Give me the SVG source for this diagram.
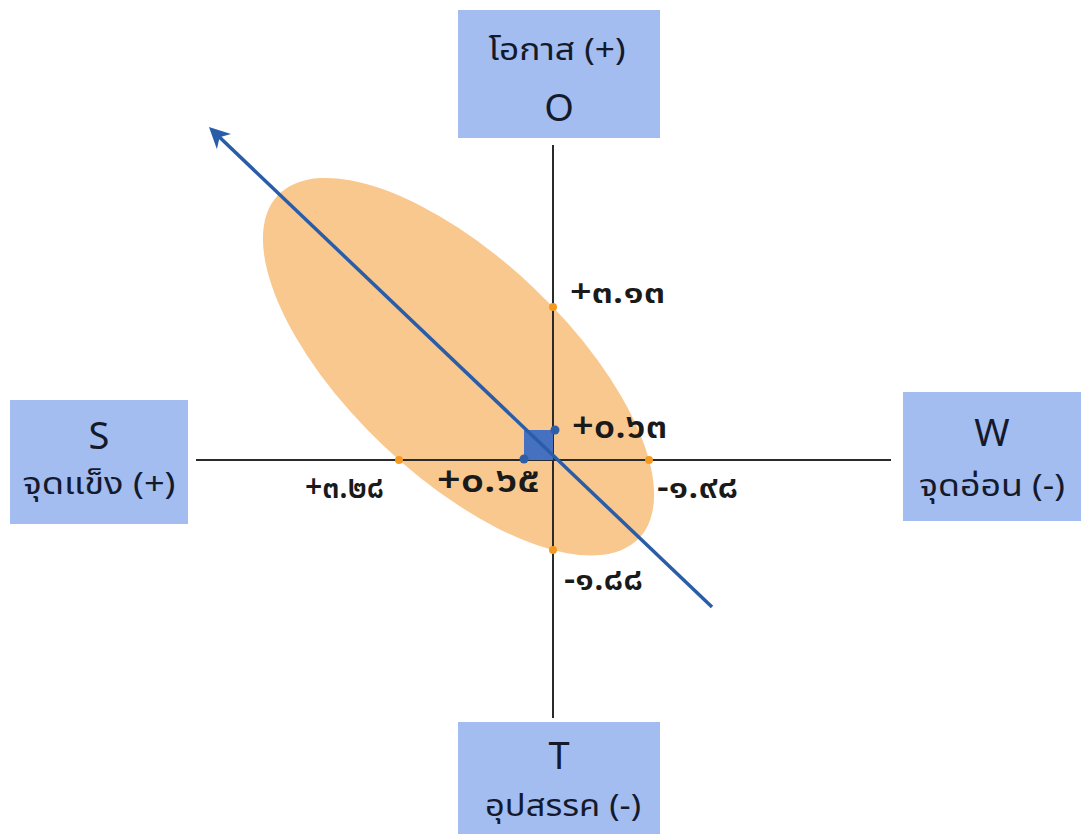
<svg xmlns="http://www.w3.org/2000/svg" width="1081" height="834" viewBox="0 0 1081 834">
<style>
.box{fill:#a3bdf1;}
.bt{font-family:"Noto Sans Thai","Noto Sans","DejaVu Sans",sans-serif;fill:#141a2c;text-anchor:middle;}
.big{font-size:38px;}
.th{font-size:31px;}
.lbl{font-family:"Noto Sans Thai","Noto Sans","DejaVu Sans",sans-serif;fill:#1a1a1a;font-weight:600;}
.axis{stroke:#2a2a2a;stroke-width:2;fill:none;}
.od{fill:#f29a22;}
.bd{fill:#2f5ea6;}
</style>
<defs>
<marker id="ah" viewBox="0 0 10 10" refX="8" refY="5" markerWidth="6" markerHeight="6" orient="auto-start-reverse" markerUnits="strokeWidth">
<path d="M0,0 L10,5 L0,10 L3,5 z" fill="#2a5da8"/>
</marker>
</defs>
<rect width="1081" height="834" fill="#ffffff"/>
<ellipse cx="458.5" cy="366.7" rx="249" ry="109" fill="#f9c88f" transform="rotate(43.5 458.5 366.7)"/>
<g id="connectors">
<line class="axis" x1="553" y1="145" x2="553" y2="718"/>
<line class="axis" x1="196" y1="460" x2="891" y2="460"/>
<rect x="524" y="430" width="29" height="30" fill="#4571c0"/>
<line x1="712" y1="607" x2="212" y2="130" stroke="#2a5da8" stroke-width="3.5" marker-end="url(#ah)"/>
</g>
<g id="points">
<circle class="od" cx="553" cy="307" r="4"/>
<circle class="od" cx="553" cy="550" r="4"/>
<circle class="od" cx="399" cy="460" r="4"/>
<circle class="od" cx="649" cy="460" r="4"/>
<circle class="bd" cx="555" cy="430" r="4.5"/>
<circle class="bd" cx="524" cy="459" r="4.5"/>
</g>
<g id="labels">
<text class="lbl" x="570" y="303" font-size="32" textLength="95" lengthAdjust="spacingAndGlyphs">+๓.๑๓</text>
<text class="lbl" x="572" y="438" font-size="36" textLength="95" lengthAdjust="spacingAndGlyphs">+๐.๖๓</text>
<text class="lbl" x="437" y="492" font-size="36" textLength="103" lengthAdjust="spacingAndGlyphs">+๐.๖๕</text>
<text class="lbl" x="305" y="498" font-size="32" textLength="79" lengthAdjust="spacingAndGlyphs">+๓.๒๘</text>
<text class="lbl" x="657" y="498" font-size="32" textLength="81" lengthAdjust="spacingAndGlyphs">-๑.๙๘</text>
<text class="lbl" x="564" y="590" font-size="32" textLength="79" lengthAdjust="spacingAndGlyphs">-๑.๘๘</text>
</g>
<g id="node-O">
<rect class="box" x="458" y="10" width="202" height="128"/>
<text class="bt th" x="557" y="60" textLength="137" lengthAdjust="spacingAndGlyphs">โอกาส (+)</text>
<text class="bt big" x="559" y="121">O</text>
</g>
<g id="node-S">
<rect class="box" x="10" y="400" width="178" height="124"/>
<text class="bt big" x="99" y="449">S</text>
<text class="bt th" x="99" y="494" textLength="153" lengthAdjust="spacingAndGlyphs">จุดแข็ง (+)</text>
</g>
<g id="node-W">
<rect class="box" x="903" y="392" width="178" height="129"/>
<text class="bt big" x="992" y="446">W</text>
<text class="bt th" x="992" y="496" textLength="146" lengthAdjust="spacingAndGlyphs">จุดอ่อน (-)</text>
</g>
<g id="node-T">
<rect class="box" x="458" y="722" width="202" height="112"/>
<text class="bt big" x="559" y="769">T</text>
<text class="bt th" x="563" y="816" textLength="156" lengthAdjust="spacingAndGlyphs">อุปสรรค (-)</text>
</g>
</svg>
